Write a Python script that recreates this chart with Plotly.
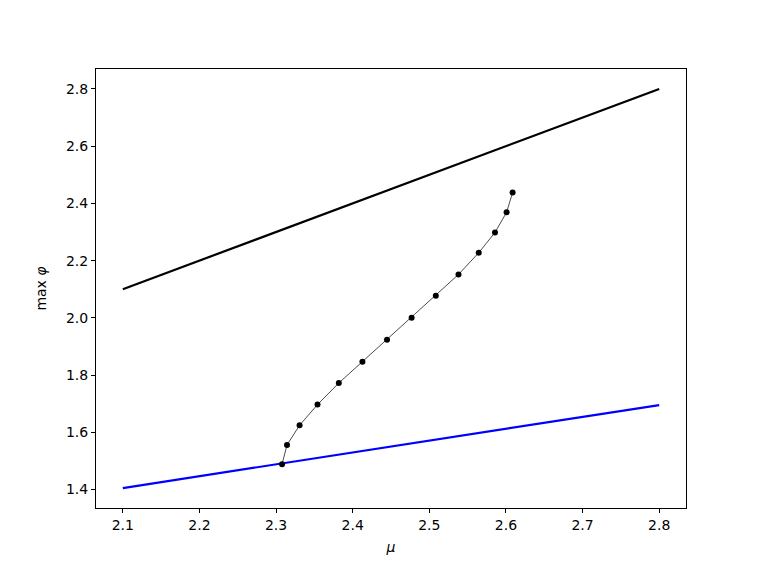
import plotly.graph_objects as go

# Upper bound line (black)
upper_mu = [2.1, 2.8]
upper_phi = [2.1, 2.8]

# Lower bound line (blue)
lower_mu = [2.1, 2.8]
lower_phi = [1.405, 1.695]

# Branch points
branch_mu = [2.3078, 2.3143, 2.3307, 2.3541, 2.3819, 2.4127, 2.4448, 2.4769,
             2.5085, 2.5381, 2.5645, 2.5857, 2.6009, 2.6087]
branch_phi = [1.4882, 1.5556, 1.6244, 1.6967, 1.7721, 1.8468, 1.9236, 2.0004,
              2.0772, 2.1516, 2.2274, 2.2983, 2.3691, 2.4379]

x_ticks = [2.1, 2.2, 2.3, 2.4, 2.5, 2.6, 2.7, 2.8]
y_ticks = [1.4, 1.6, 1.8, 2.0, 2.2, 2.4, 2.6, 2.8]

fig = go.Figure()
fig.add_trace(go.Scatter(x=upper_mu, y=upper_phi, mode="lines",
                         line=dict(color="black", width=2.2), showlegend=False))
fig.add_trace(go.Scatter(x=lower_mu, y=lower_phi, mode="lines",
                         line=dict(color="blue", width=2.2), showlegend=False))
fig.add_trace(go.Scatter(x=branch_mu, y=branch_phi, mode="lines+markers",
                         line=dict(color="black", width=0.7),
                         marker=dict(color="black", size=6), showlegend=False))

axis_common = dict(showgrid=False, zeroline=False, showline=True, linecolor="black",
                   linewidth=1, mirror=True, ticks="outside", ticklen=4, tickwidth=1,
                   tickcolor="black", tickfont=dict(family="DejaVu Sans", size=14, color="black"))

fig.update_layout(
    width=755, height=564,
    margin=dict(l=88, r=77, t=61, b=64),
    plot_bgcolor="white", paper_bgcolor="white",
    xaxis=dict(range=[2.065, 2.835], tickvals=x_ticks, ticktext=[f"{v:.1f}" for v in x_ticks],
               title=dict(text="<i>μ</i>", font=dict(family="DejaVu Sans", size=14, color="black"), standoff=10),
               **axis_common),
    yaxis=dict(range=[1.33525, 2.86975], tickvals=y_ticks, ticktext=[f"{v:.1f}" for v in y_ticks],
               title=dict(text="max <i>φ</i>", font=dict(family="DejaVu Sans", size=14, color="black"), standoff=16),
               **axis_common),
)

fig.write_html("out.html")
